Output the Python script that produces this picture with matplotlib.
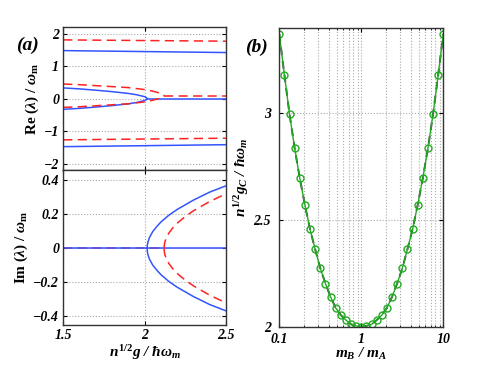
import numpy as np
import matplotlib
matplotlib.use("Agg")
import matplotlib.pyplot as plt
from matplotlib.ticker import NullFormatter

plt.rcParams['font.family'] = ['Liberation Serif', 'DejaVu Serif']
plt.rcParams['mathtext.fontset'] = 'custom'
plt.rcParams['mathtext.rm'] = 'Liberation Serif:bold'
plt.rcParams['mathtext.it'] = 'Liberation Serif:italic:bold'
plt.rcParams['mathtext.bf'] = 'Liberation Serif:bold'

# ---------------- data: panel (a) ----------------
g_out = [1.5, 2.0, 2.5]
re_blue_top = [1.48, 1.45, 1.42]
re_blue_bot = [-1.48, -1.45, -1.42]
re_red_top = [1.81, 1.79, 1.77]
re_red_bot = [-1.27, -1.245, -1.22]

g_blue_pair = [1.5, 1.6, 1.7, 1.8, 1.9, 1.95, 1.98, 2.0, 2.01, 2.016]
re_blue_half = [0.33, 0.30, 0.26, 0.215, 0.16, 0.12, 0.085, 0.06, 0.035, 0.0]
g_blue_flat = [2.016, 2.5]
re_blue_flat = [0.0, 0.0]

g_red_pair = [1.5, 1.6, 1.7, 1.8, 1.9, 2.0, 2.05, 2.08, 2.1, 2.115, 2.12]
re_red_center = 0.09
re_red_half = [0.36, 0.34, 0.31, 0.28, 0.25, 0.19, 0.14, 0.10, 0.07, 0.035, 0.0]
g_red_flat = [2.12, 2.5]
re_red_flat = [0.09, 0.09]

g_im_zero = [1.5, 2.5]
g_im_red_zero = [1.5, 2.12]
g_im_blue = [2.016, 2.017, 2.02, 2.03, 2.05, 2.075, 2.1, 2.15, 2.2, 2.3, 2.4, 2.5]
im_blue = [0.0, 0.017, 0.034, 0.063, 0.098, 0.128, 0.154, 0.195, 0.228, 0.283, 0.33, 0.367]
g_im_red = [2.12, 2.121, 2.125, 2.135, 2.15, 2.175, 2.2, 2.25, 2.3, 2.4, 2.5]
im_red = [0.0, 0.016, 0.037, 0.064, 0.09, 0.122, 0.147, 0.187, 0.22, 0.275, 0.32]

# ---------------- data: panel (b) ----------------
mass_ratio = list(np.logspace(-1, 1, 33))
gc_half = [3.370, 3.178, 2.995, 2.836, 2.696, 2.571, 2.457, 2.364, 2.275,
           2.204, 2.142, 2.090, 2.056, 2.033, 2.013, 2.006, 2.0]
gc_values = gc_half + gc_half[-2::-1]

blue = '#3355ff'
red = '#ff2222'
green = '#22aa22'

fig = plt.figure(figsize=(4.9, 3.68), dpi=100)
ax1 = fig.add_axes([0.129, 0.538, 0.332, 0.388])
ax2 = fig.add_axes([0.129, 0.117, 0.332, 0.421])
ax3 = fig.add_axes([0.570, 0.111, 0.3347, 0.814])

tick_font = dict(fontsize=10, fontweight='bold', fontstyle='italic')
lw = 1.1
dash = (0, (6, 3.5))

# --- top left: Re
for y in (re_blue_top, re_blue_bot):
    ax1.plot(g_out, y, color=blue, lw=lw)
for y in (re_red_top, re_red_bot):
    ax1.plot(g_out, y, color=red, lw=lw, linestyle=dash)
hb = np.array(re_blue_half)
ax1.plot(g_blue_pair, hb, color=blue, lw=lw)
ax1.plot(g_blue_pair, -hb, color=blue, lw=lw)
ax1.plot(g_blue_flat, re_blue_flat, color=blue, lw=lw)
hr = np.array(re_red_half)
ax1.plot(g_red_pair, re_red_center + hr, color=red, lw=lw, linestyle=dash)
ax1.plot(g_red_pair, re_red_center - hr, color=red, lw=lw, linestyle=dash)
ax1.plot(g_red_flat, re_red_flat, color=red, lw=lw, linestyle=dash)
ax1.set_xlim(1.5, 2.5)
ax1.set_ylim(-2.2, 2.2)
ax1.set_yticks([-2, -1, 0, 1, 2])
ax1.set_yticklabels(['\u22122', '\u22121', '0', '1', '2'], **tick_font)
ax1.set_xticks([1.5, 2, 2.5])
ax1.set_xticklabels([])
ax1.set_ylabel(r'Re ($\lambda$) / $\omega_{\mathrm{m}}$', fontsize=11, fontweight='bold', labelpad=2)

# --- bottom left: Im
ax2.plot(g_im_red_zero, [0, 0], color=red, lw=lw, linestyle=dash)
ax2.plot(g_im_zero, [0, 0], color=blue, lw=lw)
ib = np.array(im_blue)
ax2.plot(g_im_blue, ib, color=blue, lw=lw)
ax2.plot(g_im_blue, -ib, color=blue, lw=lw)
ir = np.array(im_red)
ax2.plot(g_im_red, ir, color=red, lw=lw, linestyle=dash)
ax2.plot(g_im_red, -ir, color=red, lw=lw, linestyle=dash)
ax2.set_xlim(1.5, 2.5)
ax2.set_ylim(-0.45, 0.46)
ax2.set_yticks([-0.4, -0.2, 0, 0.2, 0.4])
ax2.set_yticklabels(['\u22120.4', '\u22120.2', '0', '0.2', '0.4'], **tick_font)
ax2.set_xticks([1.5, 2, 2.5])
ax2.set_xticklabels(['1.5', '2', '2.5'], **tick_font)
ax2.set_ylabel(r'Im ($\lambda$) / $\omega_{\mathrm{m}}$', fontsize=11, fontweight='bold', labelpad=2)
ax2.set_xlabel(r'$n^{1/2}g$ / ħ$\omega_m$', fontsize=11, fontweight='bold', fontstyle='italic', labelpad=1)

# --- right: g_c
ax3.plot(mass_ratio, gc_values, color='#444444', lw=1.4, linestyle=(0, (4, 3)))
ax3.plot(mass_ratio, gc_values, color=green, lw=1.0, marker='o', markersize=5,
         markerfacecolor='none', markeredgecolor=green, markeredgewidth=1.0)
ax3.set_xscale('log')
ax3.set_xlim(0.1, 10)
ax3.set_ylim(2, 3.4)
ax3.set_xticks([0.1, 1, 10])
ax3.set_xticklabels(['0.1', '1', '10'], **tick_font)
ax3.xaxis.set_minor_formatter(NullFormatter())
ax3.set_yticks([2, 2.5, 3])
ax3.set_yticklabels(['2', '2.5', '3'], **tick_font)
ax3.set_ylabel(r'$n^{1/2}g_C$ / ħ$\omega_m$', fontsize=11, fontweight='bold', fontstyle='italic', labelpad=2)
ax3.set_xlabel(r'$m_B$ / $m_A$', fontsize=11, fontweight='bold', fontstyle='italic', labelpad=0)
ax3.grid(True, which='major', color='#aaaaaa', linestyle=':', lw=0.8)
ax3.grid(True, which='minor', axis='x', color='#aaaaaa', linestyle=':', lw=0.8)

for ax in (ax1, ax2):
    ax.grid(True, color='#aaaaaa', linestyle=':', lw=0.8)
for ax in (ax1, ax2, ax3):
    ax.tick_params(which='both', direction='in', top=True, right=True, length=3, pad=3)
    ax.tick_params(which='minor', length=1.5)
    for s in ax.spines.values():
        s.set_linewidth(1.0)
        s.set_color('#333333')
ax3.tick_params(axis='y', pad=6)
ax3.tick_params(axis='x', pad=4)

fig.text(0.033, 0.864, '(a)', fontsize=14, fontweight='bold', fontstyle='italic')
fig.text(0.500, 0.859, '(b)', fontsize=14, fontweight='bold', fontstyle='italic')

fig.savefig('out.png', dpi=100)
